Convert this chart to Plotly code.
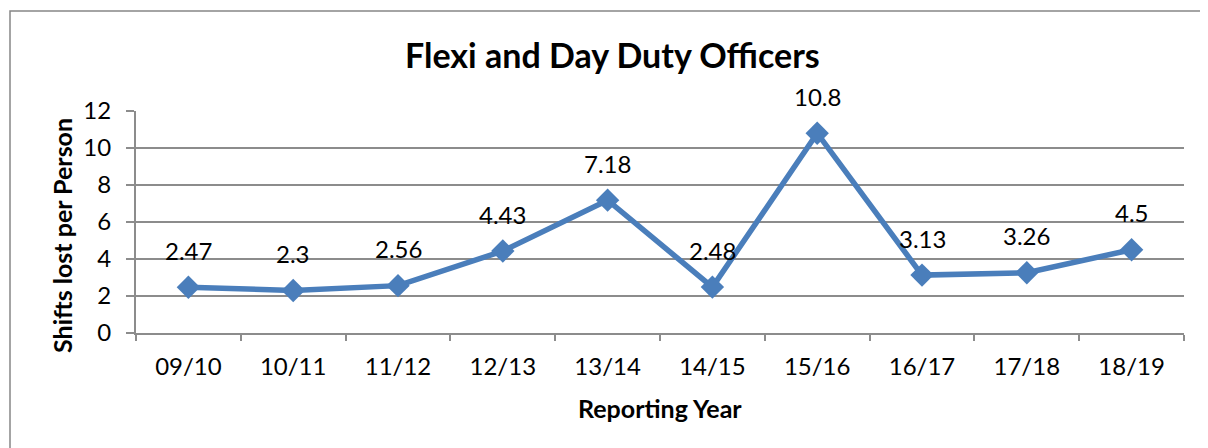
import plotly.graph_objects as go

categories = ["09/10", "10/11", "11/12", "12/13", "13/14", "14/15", "15/16", "16/17", "17/18", "18/19"]
values = [2.47, 2.3, 2.56, 4.43, 7.18, 2.48, 10.8, 3.13, 3.26, 4.5]
labels = ["2.47", "2.3", "2.56", "4.43", "7.18", "2.48", "10.8", "3.13", "3.26", "4.5"]
y_ticks = [0, 2, 4, 6, 8, 10, 12]

FONT = "Lato"
LINE = "#4A7EBB"
GRID = "#8C8C8C"

# page body has an 8px margin: work in page pixel coords and subtract it
OFF = 8
W, H = 1208 - OFF, 448 - OFF
L = 136 - OFF
T = 111 - OFF
R = 1208 - 1184
B = 448 - 333
pw, ph = W - L - R, H - T - B

def px_x(p):
    return (p - OFF - L) / pw

def px_y(p):
    return (H - B - (p - OFF)) / ph

fig = go.Figure()
fig.add_trace(go.Scatter(
    x=categories, y=values, mode="lines+markers",
    line=dict(color=LINE, width=5.5),
    marker=dict(symbol="diamond", size=18, color=LINE),
    hoverinfo="x+y", showlegend=False,
))

for c, v, t in zip(categories, values, labels):
    fig.add_annotation(x=c, y=v, text=t, showarrow=False, yshift=37,
                       xanchor="center", yanchor="middle",
                       font=dict(family=FONT, size=24, color="#000000"))

fig.update_layout(
    width=W, height=H,
    margin=dict(l=L, r=R, t=T, b=B, pad=0),
    paper_bgcolor="white", plot_bgcolor="white",
    font=dict(family=FONT, size=23, color="#000000"),
    xaxis=dict(
        type="category", range=[-0.5, len(categories) - 0.5],
        tickson="boundaries", ticks="outside", ticklen=6, tickcolor=GRID, tickwidth=2,
        showline=True, linecolor=GRID, linewidth=2,
        showgrid=False, zeroline=False,
        tickfont=dict(family=FONT, size=24), ticklabelstandoff=11,
    ),
    yaxis=dict(
        range=[0, 12], tickvals=y_ticks, ticks="outside", ticklen=8, tickcolor=GRID, tickwidth=2,
        showline=True, linecolor=GRID, linewidth=2,
        showgrid=True, gridcolor=GRID, gridwidth=2, zeroline=False,
        tickfont=dict(family=FONT, size=24), ticklabelstandoff=10,
    ),
    shapes=[dict(type="rect", xref="paper", yref="paper",
                 x0=px_x(10), x1=px_x(1250), y0=px_y(500), y1=px_y(11),
                 line=dict(color="#868686", width=1.5), fillcolor="rgba(0,0,0,0)", layer="below")],
)

fig.add_annotation(text="<b>Flexi and Day Duty Officers</b>", xref="paper", yref="paper",
                   x=px_x(612), y=px_y(55), showarrow=False, xanchor="center", yanchor="middle",
                   font=dict(family=FONT, size=34))
fig.add_annotation(text="<b>Reporting Year</b>", xref="paper", yref="paper",
                   x=px_x(660), y=px_y(408), showarrow=False, xanchor="center", yanchor="middle",
                   font=dict(family=FONT, size=25))
fig.add_annotation(text="<b>Shifts lost per Person</b>", xref="paper", yref="paper",
                   x=px_x(62), y=px_y(236), showarrow=False, xanchor="center", yanchor="middle",
                   textangle=-90, font=dict(family=FONT, size=25))

fig.write_html("out.html")
